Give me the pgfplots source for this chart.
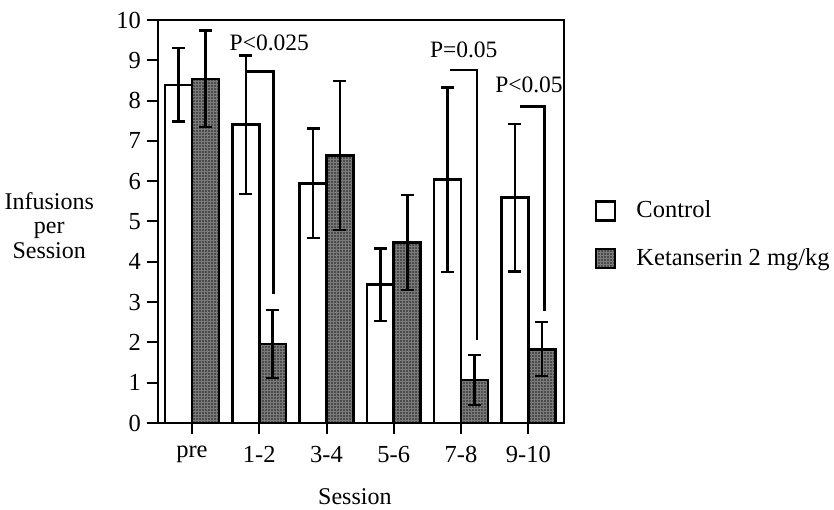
\documentclass[border=0pt]{standalone}
\usepackage{fontspec}
\setmainfont{Liberation Serif}
\usepackage{pgfplots}
\pgfplotsset{compat=1.18}
\usetikzlibrary{patterns}
\definecolor{ketfill}{HTML}{4C4C4C}
\definecolor{ketgrid}{HTML}{7A7A7A}
\begin{document}
\fontsize{24}{24.5}\selectfont
\begin{tikzpicture}
\useasboundingbox (-158pt,-87pt) rectangle (676pt,423pt);
\begin{axis}[
  scale only axis, width=406pt, height=403pt,
  at={(0pt,0pt)}, anchor=south west,
  xmin=-0.505, xmax=5.53, ymin=0, ymax=10,
  ytick={0,1,...,10}, xtick={0,1,2,3,4,5},
  xticklabels={pre,1-2,3-4,5-6,7-8,9-10},
  xtick pos=bottom, ytick pos=left,
  tick align=outside, major tick length=11pt,
  tick style={line width=2pt, black},
  axis line style={line width=2.5pt},
  /pgf/number format/assume math mode=true,
  ticklabel style={font=\fontsize{24.5}{25}\selectfont},
  yticklabel style={xshift=2pt},
  xticklabel style={yshift=-4pt},
  ybar, bar width=0.4,
  xlabel={Session},
  xlabel style={at={(axis description cs:0.485,-0.184)}, anchor=center, font=\fontsize{24}{24.5}\selectfont},
  ylabel={Infusions\\per\\Session},
  ylabel style={rotate=-90, align=center, at={(axis description cs:-0.268,0.49)}, anchor=center, font=\fontsize{24}{24.5}\selectfont},
  legend style={draw=none, fill=none, at={(axis description cs:1.076,0.467)}, anchor=west,
    font=\fontsize{24.5}{25}\selectfont, row sep=23pt, inner sep=0pt},
  legend cell align=left,
  legend image code/.code={\draw[#1, line width=2.2pt] (0pt,-9.5pt) rectangle (19pt,9.5pt); \path (37pt,0pt);},
]
\addplot[bar shift=-0.2, draw=black, fill=white, line width=2.6pt,
  error bars/.cd, y dir=both, y explicit,
  error bar style={line width=2.5pt, black},
  error mark options={rotate=90, mark size=6.5pt, line width=2.5pt, black}]
  coordinates {
  (0,8.39) +- (0,0.91)
  (1,7.40) +- (0,1.72)
  (2,5.95) +- (0,1.36)
  (3,3.43) +- (0,0.90)
  (4,6.04) +- (0,2.29)
  (5,5.59) +- (0,1.83)
  };
\addlegendentry{Control}
\addplot[bar shift=0.2, draw=black, fill=ketfill, line width=2.6pt,
  postaction={pattern=grid, pattern color=ketgrid},
  error bars/.cd, y dir=both, y explicit,
  error bar style={line width=2.5pt, black},
  error mark options={rotate=90, mark size=6.5pt, line width=2.5pt, black}]
  coordinates {
  (0,8.54) +- (0,1.20)
  (1,1.96) +- (0,0.84)
  (2,6.64) +- (0,1.85)
  (3,4.48) +- (0,1.18)
  (4,1.07) +- (0,0.62)
  (5,1.83) +- (0,0.67)
  };
\addlegendentry{Ketanserin 2 mg/kg}
% significance brackets
\addplot[sharp plot, no marks, black, line width=2.5pt, forget plot] coordinates {(0.80,8.72) (1.21,8.72) (1.21,3.19)};
\addplot[sharp plot, no marks, black, line width=2.5pt, forget plot] coordinates {(3.84,8.76) (4.24,8.76) (4.24,2.07)};
\addplot[sharp plot, no marks, black, line width=2.5pt, forget plot] coordinates {(4.87,7.85) (5.24,7.85) (5.24,2.78)};
\node[font=\fontsize{23.5}{24}\selectfont] at (axis cs:1.15,9.43) {P<0.025};
\node[font=\fontsize{23.5}{24}\selectfont] at (axis cs:4.04,9.26) {P=0.05};
\node[font=\fontsize{23.5}{24}\selectfont] at (axis cs:5.01,8.39) {P<0.05};
\end{axis}
\end{tikzpicture}
\end{document}
